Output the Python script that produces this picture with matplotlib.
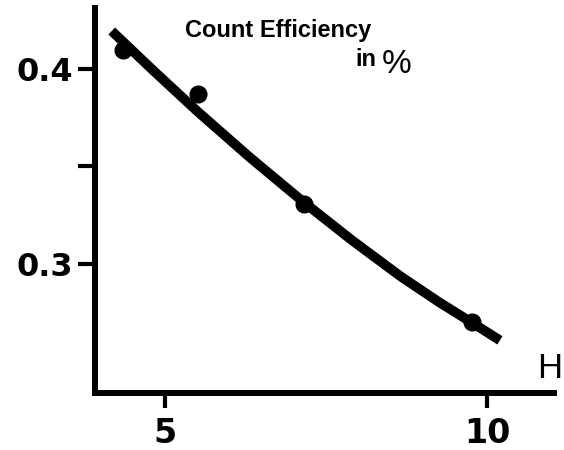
import matplotlib
matplotlib.use("Agg")
import matplotlib.pyplot as plt

# measured points (count efficiency vs H)
pts_x = [4.35, 5.51, 7.16, 9.77]
pts_y = [0.410, 0.387, 0.331, 0.270]

# fitted curve
curve_x = [4.17, 4.80, 5.50, 6.30, 7.14, 7.90, 8.65, 9.25, 9.77, 10.20]
curve_y = [0.4195, 0.3997, 0.3783, 0.3551, 0.3320, 0.3122, 0.2938, 0.2805, 0.2698, 0.2608]

xticks = [5, 10]
yticks = [0.3, 0.35, 0.4]
ytick_labels = ["0.3", "", "0.4"]

fig = plt.figure(figsize=(5.64, 4.5), dpi=100)
ax = fig.add_axes([95 / 564, 57 / 450, (554 - 95) / 564, (393 - 8) / 450])

ax.plot(curve_x, curve_y, color="black", lw=7, solid_capstyle="butt", solid_joinstyle="round")
ax.plot(pts_x, pts_y, "o", color="black", ms=12)

ax.set_xlim(3.91, 11.04)
ax.set_ylim(0.2338, 0.4313)

for s in ["top", "right"]:
    ax.spines[s].set_visible(False)
for s in ["left", "bottom"]:
    ax.spines[s].set_linewidth(4.3)

ax.set_xticks(xticks)
ax.set_xticklabels([str(t) for t in xticks], fontsize=24, fontweight="bold", family="DejaVu Sans")
ax.set_yticks(yticks)
ax.set_yticklabels(ytick_labels, fontsize=23, fontweight="bold", family="DejaVu Sans")
ax.tick_params(axis="x", length=11, width=3, pad=6)
ax.tick_params(axis="y", length=12, width=3, pad=4)

fig.text(185 / 564, 1 - 37 / 450, "Count Efficiency", fontsize=17, fontweight="bold",
         family="Liberation Sans", va="baseline")
fig.text(355 / 564, 1 - 66 / 450, "in", fontsize=17, fontweight="bold",
         family="Liberation Sans", va="baseline")
fig.text(382 / 564, 1 - 73 / 450, "%", fontsize=24, family="Liberation Sans", va="baseline")
fig.text(537 / 564, 1 - 378 / 450, "H", fontsize=25, family="Liberation Sans", va="baseline")

fig.savefig("out.png", dpi=100)
